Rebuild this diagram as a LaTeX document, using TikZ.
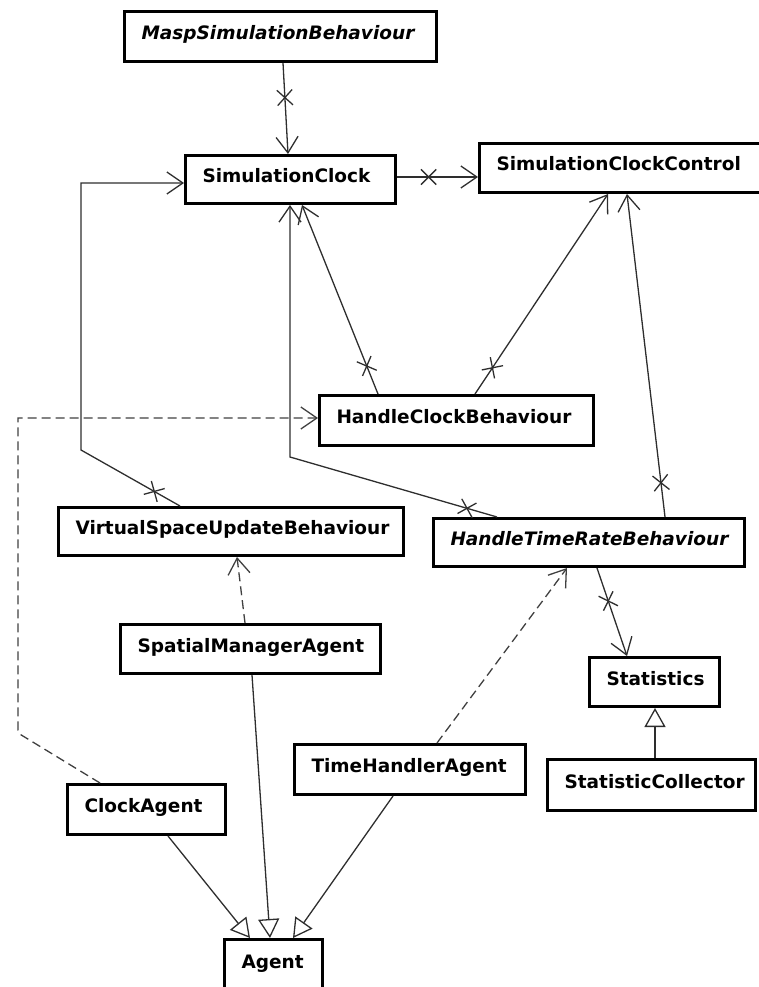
\documentclass[tikz,border=0pt]{standalone}
\usepackage{fontspec}
\setmainfont{DejaVu Sans}
\usetikzlibrary{arrows.meta,shapes.misc,calc}
\definecolor{linecol}{HTML}{2E2E2E}
\definecolor{dashcol}{HTML}{404040}
\begin{document}
\begin{tikzpicture}[x=1pt,y=-1pt,
  cls/.style={draw=black, line width=3pt, fill=white, inner xsep=0pt, inner ysep=0pt,
    text height=15pt, text depth=9pt, align=left,
    font=\fontsize{18.5}{22}\selectfont\bfseries},
  assoc/.style={draw=linecol, line width=1.3pt,
    -{Straight Barb[length=16pt,width=22pt]}},
  depend/.style={draw=dashcol, line width=1.3pt, dash pattern=on 9pt off 5pt,
    -{Straight Barb[length=16pt,width=22pt]}},
  gen/.style={draw=linecol, line width=1.3pt,
    -{Triangle[open,length=19pt,width=21pt]}},
  xmark/.style={draw=linecol, cross out, line width=1.3pt, solid,
    minimum size=14pt, inner sep=0pt, sloped}]
\useasboundingbox (0,0) rectangle (759,987);
\clip (0,0) rectangle (759,987);

% classes
\node[cls, minimum width=312pt, minimum height=50pt, text width=278pt] (masp) at (280.5,36.5) {\itshape\mbox{MaspSimulationBehaviour}};
\node[cls, minimum width=210pt, minimum height=48pt, text width=176pt] (simclock) at (290.5,179.5) {\mbox{SimulationClock}};
\node[cls, minimum width=309pt, minimum height=49pt, text width=275pt] (scc) at (634,168) {\mbox{SimulationClockControl}};
\node[cls, minimum width=274pt, minimum height=50pt, text width=240pt] (hcb) at (456.5,420.5) {\mbox{HandleClockBehaviour}};
\node[cls, minimum width=345pt, minimum height=48pt, text width=311pt] (vsub) at (231,531.5) {\mbox{VirtualSpaceUpdateBehaviour}};
\node[cls, minimum width=311pt, minimum height=48pt, text width=277pt] (htrb) at (589,542.5) {\itshape\mbox{HandleTimeRateBehaviour}};
\node[cls, minimum width=260pt, minimum height=49pt, text width=226pt] (sma) at (250.5,649) {\mbox{SpatialManagerAgent}};
\node[cls, minimum width=231pt, minimum height=50pt, text width=197pt] (tha) at (410,769.5) {\mbox{TimeHandlerAgent}};
\node[cls, minimum width=158pt, minimum height=50pt, text width=124pt] (clock) at (146.5,809.5) {\mbox{ClockAgent}};
\node[cls, minimum width=98pt, minimum height=52.5pt, text width=64pt] (agent) at (273.5,965.75) {\mbox{Agent}};
\node[cls, minimum width=130pt, minimum height=49pt, text width=96pt] (stats) at (654.5,682) {\mbox{Statistics}};
\node[cls, minimum width=208pt, minimum height=51pt, text width=174pt] (scoll) at (651.5,785) {\mbox{StatisticCollector}};

% bend points
\coordinate (c1) at (81,450);
\coordinate (c2) at (290,457);
\coordinate (c3) at (18,733);
\coordinate (simin) at ([yshift=-3.5pt]simclock.west);
\coordinate (hcbin) at ([yshift=2.5pt]hcb.west);

% associations
\draw[assoc] ([xshift=2.5pt]masp.south) -- node[xmark,pos=.38] (x1) {} ([xshift=-2.5pt]simclock.north);
\draw[assoc] ([yshift=2.5pt]simclock.east) -- node[xmark,pos=.39] (x2) {} ([yshift=2.5pt]simclock.east -| scc.west);
\draw[assoc] ([xshift=-51pt]vsub.north) -- node[xmark,pos=.26] (x3) {} (c1) -- (c1 |- simin) -- (simin);
\draw[assoc] ([xshift=-92pt]htrb.north) -- node[xmark,pos=.145] (x4) {} (c2) -- (c2 |- simclock.south);
\draw[assoc] ([xshift=-78.5pt]hcb.north) -- node[xmark,pos=.148] (x5) {} ([xshift=11.5pt]simclock.south);
\draw[assoc] ([xshift=18.5pt]hcb.north) -- node[xmark,pos=.131] (x6) {} ([xshift=-26pt]scc.south);
\draw[assoc] ([xshift=76pt]htrb.north) -- node[xmark,pos=.106] (x7) {} ([xshift=-7pt]scc.south);
\draw[assoc] ([xshift=8pt]htrb.south) -- node[xmark,pos=.375] (x8) {} ([xshift=-27.5pt]stats.north);

% dependencies
\draw[depend] ([xshift=-5.5pt]sma.north) -- ([xshift=6pt]vsub.south);
\draw[depend] ([xshift=27pt]tha.north) -- ([xshift=-22pt]htrb.south);
\draw[depend] ([xshift=-46.5pt]clock.north) [rounded corners=3pt] -- (c3) [sharp corners] -- (c3 |- hcbin) -- (hcbin);

% generalizations
\draw[gen] ([xshift=3.5pt]scoll.north) -- ([xshift=3.5pt]scoll.north |- stats.south);
\draw[gen] ([xshift=21.5pt]clock.south) -- ([xshift=-23.5pt]agent.north);
\draw[gen] ([xshift=1.5pt]sma.south) -- ([xshift=-3.5pt]agent.north);
\draw[gen] ([xshift=-17pt]tha.south) -- ([xshift=19.5pt]agent.north);
\end{tikzpicture}
\end{document}
